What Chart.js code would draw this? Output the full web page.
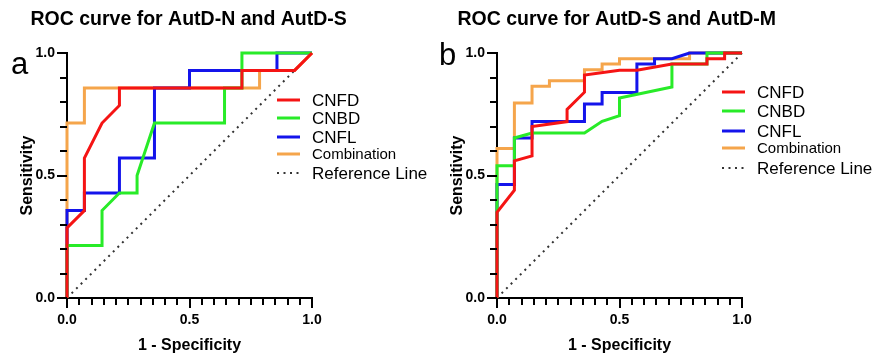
<!DOCTYPE html>
<html>
<head>
<meta charset="utf-8">
<script src="https://cdn.jsdelivr.net/npm/chart.js@4.4.0/dist/chart.umd.min.js"></script>
<style>
  body { margin: 0; background: #fff; }
  #wrap { position: relative; width: 872px; height: 358px; overflow: hidden; }
  canvas { position: absolute; top: 0; }
</style>
</head>
<body>
<div id="wrap">
  <canvas id="chartA" width="436" height="358" style="left:0px"></canvas>
  <canvas id="chartB" width="442" height="358" style="left:430px"></canvas>
</div>
<script>
// series names (legend order)
const seriesNames = ['CNFD', 'CNBD', 'CNFL', 'Combination'];
const refName = 'Reference Line';

// panel a: AutD-N vs AutD-S  (1 - specificity / sensitivity)
const aCnfdX = [0, 0, 0.071, 0.071, 0.143, 0.214, 0.214, 0.714, 0.714, 0.929, 1];
const aCnfdY = [0, 0.286, 0.357, 0.571, 0.714, 0.786, 0.857, 0.857, 0.929, 0.929, 1];
const aCnbdX = [0, 0, 0.143, 0.143, 0.214, 0.286, 0.286, 0.357, 0.643, 0.643, 0.714, 0.714, 1];
const aCnbdY = [0, 0.214, 0.214, 0.357, 0.429, 0.429, 0.5, 0.714, 0.714, 0.857, 0.857, 1, 1];
const aCnflX = [0, 0, 0.071, 0.071, 0.214, 0.214, 0.357, 0.357, 0.5, 0.5, 0.857, 0.857, 1];
const aCnflY = [0, 0.357, 0.357, 0.429, 0.429, 0.571, 0.571, 0.857, 0.857, 0.929, 0.929, 1, 1];
const aCombX = [0, 0, 0.071, 0.071, 0.786, 0.786, 0.929, 1];
const aCombY = [0, 0.714, 0.714, 0.857, 0.857, 0.929, 0.929, 1];

// panel b: AutD-S vs AutD-M
const bCnfdX = [0, 0, 0.071, 0.071, 0.143, 0.143, 0.286, 0.286, 0.357, 0.357, 0.5, 0.571, 0.714, 0.857, 0.857, 0.929, 0.929, 1];
const bCnfdY = [0, 0.35, 0.44, 0.56, 0.58, 0.70, 0.72, 0.77, 0.84, 0.91, 0.93, 0.93, 0.955, 0.955, 0.977, 0.977, 1, 1];
const bCnbdX = [0, 0, 0.071, 0.071, 0.143, 0.357, 0.429, 0.5, 0.5, 0.714, 0.714, 0.857, 0.857, 1];
const bCnbdY = [0, 0.54, 0.54, 0.653, 0.673, 0.673, 0.721, 0.744, 0.816, 0.861, 0.955, 0.955, 1, 1];
const bCnflX = [0, 0, 0.071, 0.071, 0.143, 0.143, 0.357, 0.357, 0.429, 0.429, 0.571, 0.571, 0.643, 0.643, 0.714, 0.786, 1];
const bCnflY = [0, 0.463, 0.463, 0.653, 0.653, 0.72, 0.72, 0.792, 0.792, 0.839, 0.839, 0.955, 0.955, 0.977, 0.977, 1, 1];
const bCombX = [0, 0, 0.071, 0.071, 0.143, 0.143, 0.214, 0.214, 0.357, 0.357, 0.429, 0.429, 0.5, 0.5, 0.786, 0.786, 1];
const bCombY = [0, 0.61, 0.61, 0.796, 0.796, 0.864, 0.864, 0.887, 0.887, 0.932, 0.932, 0.955, 0.955, 0.977, 0.977, 1, 1];

// diagonal reference
const refX = [0, 1];
const refY = [0, 1];

const colors = ['rgb(245,20,20)', 'rgb(40,235,40)', 'rgb(20,20,235)', 'rgb(245,165,75)'];
const FONT = "'Liberation Sans', Arial, sans-serif";

function pts(xs, ys) {
  return xs.map((x, i) => ({ x: x, y: ys[i] }));
}

// tick marks (minor every 0.05 on x, 0.1 on y), title, panel letter, legend
const decorPlugin = {
  id: 'decor',
  afterDraw(chart, args, o) {
    const ctx = chart.ctx;
    const area = chart.chartArea;
    const xs = chart.scales.x, ys = chart.scales.y;
    ctx.save();
    ctx.setLineDash([]);
    ctx.fillStyle = '#000';
    for (let k = 0; k <= 20; k++) {
      const px = Math.round(xs.getPixelForValue(k / 20));
      const len = k % 10 === 0 ? 10 : 7;
      ctx.fillRect(px - 1, Math.round(area.bottom), 2, len);
    }
    for (let k = 0; k <= 10; k++) {
      const py = Math.round(ys.getPixelForValue(k / 10));
      const len = k % 5 === 0 ? 10 : 7;
      ctx.fillRect(Math.round(area.left) - len, py - 1, len, 2);
    }

    ctx.textBaseline = 'middle';
    ctx.textAlign = 'left';
    ctx.font = 'bold 19.5px ' + FONT;
    ctx.fillText(o.title, o.titleX, o.titleY);

    ctx.textBaseline = 'alphabetic';
    ctx.font = '31px ' + FONT;
    ctx.fillText(o.letter, o.letterX, o.letterY);

    // legend
    ctx.textBaseline = 'middle';
    chart.data.datasets.forEach((ds, i) => {
      const y = o.legendY[i];
      ctx.beginPath();
      ctx.strokeStyle = ds.borderColor;
      ctx.lineWidth = ds.borderWidth;
      ctx.setLineDash(ds.borderDash || []);
      ctx.moveTo(o.legendX, y);
      ctx.lineTo(o.legendX + 23, y);
      ctx.stroke();
      ctx.setLineDash([]);
      ctx.fillStyle = '#000';
      ctx.font = (ds.label === 'Combination' ? 15 : 17) + 'px ' + FONT;
      ctx.fillText(ds.label, o.legendX + 35, y + 1);
    });
    ctx.restore();
  }
};

function makeChart(id, curves, decor) {
  const datasets = curves.map((c, i) => ({
    label: seriesNames[i],
    data: pts(c[0], c[1]),
    borderColor: colors[i],
    borderWidth: 3,
    borderJoinStyle: 'miter',
    pointRadius: 0,
    tension: 0,
    fill: false,
    clip: false
  }));
  datasets.push({
    label: refName,
    data: pts(refX, refY),
    borderColor: '#333',
    borderWidth: 2,
    borderDash: [2, 4.5],
    pointRadius: 0,
    fill: false,
    clip: false
  });

  return new Chart(document.getElementById(id), {
    type: 'line',
    data: { datasets: datasets },
    options: {
      responsive: false,
      animation: false,
      layout: { padding: { top: 53, left: 0, bottom: 0, right: decor.padRight } },
      plugins: {
        legend: { display: false },
        tooltip: { enabled: false },
        decor: decor
      },
      scales: {
        x: {
          type: 'linear',
          min: 0,
          max: 1,
          grid: { display: false, drawTicks: true, tickLength: 9 },
          border: { display: true, color: '#000', width: 2 },
          ticks: {
            stepSize: 0.5,
            maxRotation: 0,
            padding: 5,
            color: '#000',
            font: { family: FONT, size: 14, weight: 'bold' },
            callback: v => v.toFixed(1)
          },
          title: {
            display: true,
            text: '1 - Specificity',
            color: '#000',
            font: { family: FONT, size: 16, weight: 'bold' },
            padding: { top: 0, bottom: 3 }
          },
          afterFit: s => { s.height = 60; }
        },
        y: {
          type: 'linear',
          min: 0,
          max: 1,
          grid: { display: false, drawTicks: true, tickLength: 9 },
          border: { display: true, color: '#000', width: 2 },
          ticks: {
            stepSize: 0.5,
            padding: 3,
            color: '#000',
            font: { family: FONT, size: 14, weight: 'bold' },
            callback: v => v.toFixed(1)
          },
          title: {
            display: true,
            text: 'Sensitivity',
            color: '#000',
            font: { family: FONT, size: 16, weight: 'bold' },
            padding: { top: 18, bottom: 0 }
          },
          afterFit: s => { s.width = 67; }
        }
      }
    },
    plugins: [decorPlugin]
  });
}

makeChart('chartA',
  [[aCnfdX, aCnfdY], [aCnbdX, aCnbdY], [aCnflX, aCnflY], [aCombX, aCombY]],
  {
    title: 'ROC curve for AutD-N and AutD-S', titleX: 30.5, titleY: 20,
    letter: 'a', letterX: 11, letterY: 74,
    legendX: 277, legendY: [100, 118, 137, 154, 173],
    padRight: 124
  });

makeChart('chartB',
  [[bCnfdX, bCnfdY], [bCnbdX, bCnbdY], [bCnflX, bCnflY], [bCombX, bCombY]],
  {
    title: 'ROC curve for AutD-S and AutD-M', titleX: 27.5, titleY: 20,
    letter: 'b', letterX: 9, letterY: 65,
    legendX: 292, legendY: [92, 111, 131, 148, 168],
    padRight: 130
  });
</script>
</body>
</html>
